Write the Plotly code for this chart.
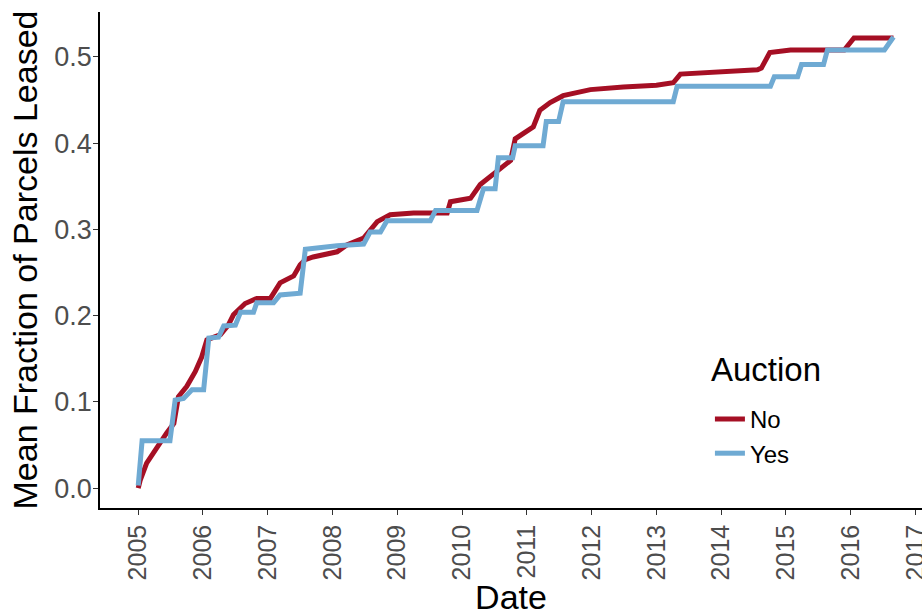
import plotly.graph_objects as go

# Series: "No" auction (red) and "Yes" auction (blue); x = decimal year
no_year = [2005.00, 2005.03, 2005.13, 2005.29, 2005.44, 2005.55, 2005.62, 2005.75, 2005.88, 2005.98,
           2006.06, 2006.27, 2006.39, 2006.47, 2006.65, 2006.83, 2007.04, 2007.19, 2007.40, 2007.50,
           2007.58, 2007.70, 2008.07, 2008.22, 2008.48, 2008.69, 2008.89, 2009.25, 2009.77, 2009.82,
           2010.13, 2010.28, 2010.49, 2010.75, 2010.82, 2011.10, 2011.20, 2011.36, 2011.56, 2011.98,
           2012.49, 2013.00, 2013.26, 2013.37, 2014.56, 2014.62, 2014.75, 2015.07, 2015.90, 2016.05,
           2016.66]
no_val = [0.000, 0.009, 0.029, 0.048, 0.064, 0.075, 0.106, 0.118, 0.135, 0.152,
          0.172, 0.178, 0.189, 0.201, 0.214, 0.220, 0.220, 0.238, 0.246, 0.259,
          0.265, 0.268, 0.274, 0.282, 0.290, 0.309, 0.317, 0.319, 0.319, 0.332,
          0.336, 0.352, 0.365, 0.380, 0.405, 0.419, 0.438, 0.447, 0.455, 0.462,
          0.465, 0.467, 0.470, 0.480, 0.485, 0.487, 0.505, 0.508, 0.508, 0.522,
          0.522]

yes_year = [2005.00, 2005.06, 2005.49, 2005.57, 2005.70, 2005.83, 2006.01, 2006.09, 2006.24, 2006.32,
            2006.50, 2006.58, 2006.78, 2006.83, 2007.09, 2007.19, 2007.50, 2007.58, 2008.07, 2008.48,
            2008.58, 2008.74, 2008.84, 2009.51, 2009.59, 2010.23, 2010.33, 2010.51, 2010.56, 2010.78,
            2010.82, 2011.25, 2011.30, 2011.49, 2011.56, 2013.26, 2013.32, 2014.76, 2014.82, 2015.18,
            2015.24, 2015.58, 2015.64, 2016.52, 2016.66]
yes_val = [0.003, 0.055, 0.055, 0.102, 0.104, 0.114, 0.114, 0.174, 0.175, 0.188,
           0.189, 0.204, 0.204, 0.215, 0.215, 0.224, 0.226, 0.277, 0.281, 0.283,
           0.297, 0.297, 0.310, 0.310, 0.322, 0.322, 0.347, 0.347, 0.383, 0.383,
           0.397, 0.397, 0.425, 0.425, 0.448, 0.448, 0.466, 0.466, 0.477, 0.477,
           0.491, 0.491, 0.508, 0.508, 0.523]

year_ticks = list(range(2005, 2018))
y_ticks = [0.0, 0.1, 0.2, 0.3, 0.4, 0.5]

RED = "#A50F24"
BLUE = "#6FAAD3"
FONT = "Liberation Sans, Arial, sans-serif"

fig = go.Figure()
fig.add_trace(go.Scatter(x=no_year, y=no_val, mode="lines", name="No",
                         line=dict(color=RED, width=5)))
fig.add_trace(go.Scatter(x=yes_year, y=yes_val, mode="lines", name="Yes",
                         line=dict(color=BLUE, width=5)))

fig.update_layout(
    width=922, height=616,
    margin=dict(l=100, r=0, t=12, b=108),
    plot_bgcolor="white", paper_bgcolor="white",
    font=dict(family=FONT, color="black"),
    legend=dict(
        font=dict(size=24, color="black"),
        x=0.742, y=0.224, xanchor="left", yanchor="top",
        bgcolor="rgba(0,0,0,0)", tracegroupgap=0,
    ),
    annotations=[dict(
        text="Auction", xref="paper", yref="paper", x=0.741, y=0.3196,
        xanchor="left", yanchor="top", showarrow=False,
        font=dict(size=33, color="black"),
    )],
)
fig.update_xaxes(
    range=[2004.41, 2017.1], tickmode="array", tickvals=year_ticks,
    ticktext=[str(y) for y in year_ticks], tickangle=-90,
    tickfont=dict(size=25, color="#4D4D4D"), ticklabeloverflow="allow",
    showgrid=False, zeroline=False, showline=True, linecolor="black", linewidth=1.5,
    ticks="outside", ticklen=5, tickcolor="#333333", tickwidth=1.2,
    title=dict(text="Date", font=dict(size=34, color="black"), standoff=4),
    automargin=False,
)
fig.update_yaxes(
    range=[-0.023, 0.552], tickmode="array", tickvals=y_ticks,
    ticktext=["0.0", "0.1", "0.2", "0.3", "0.4", "0.5"],
    tickfont=dict(size=27, color="#4D4D4D"), ticklabelstandoff=-4,
    showgrid=False, zeroline=False, showline=True, linecolor="black", linewidth=1.5,
    ticks="outside", ticklen=5, tickcolor="#333333", tickwidth=1.2,
    title=dict(text="Mean Fraction of Parcels Leased", font=dict(size=34, color="black"), standoff=6),
    automargin=False,
)

fig.write_html(
    "out.html",
    config={"displayModeBar": False},
    post_script="document.body.style.margin='0px';document.body.style.overflow='hidden';",
)
